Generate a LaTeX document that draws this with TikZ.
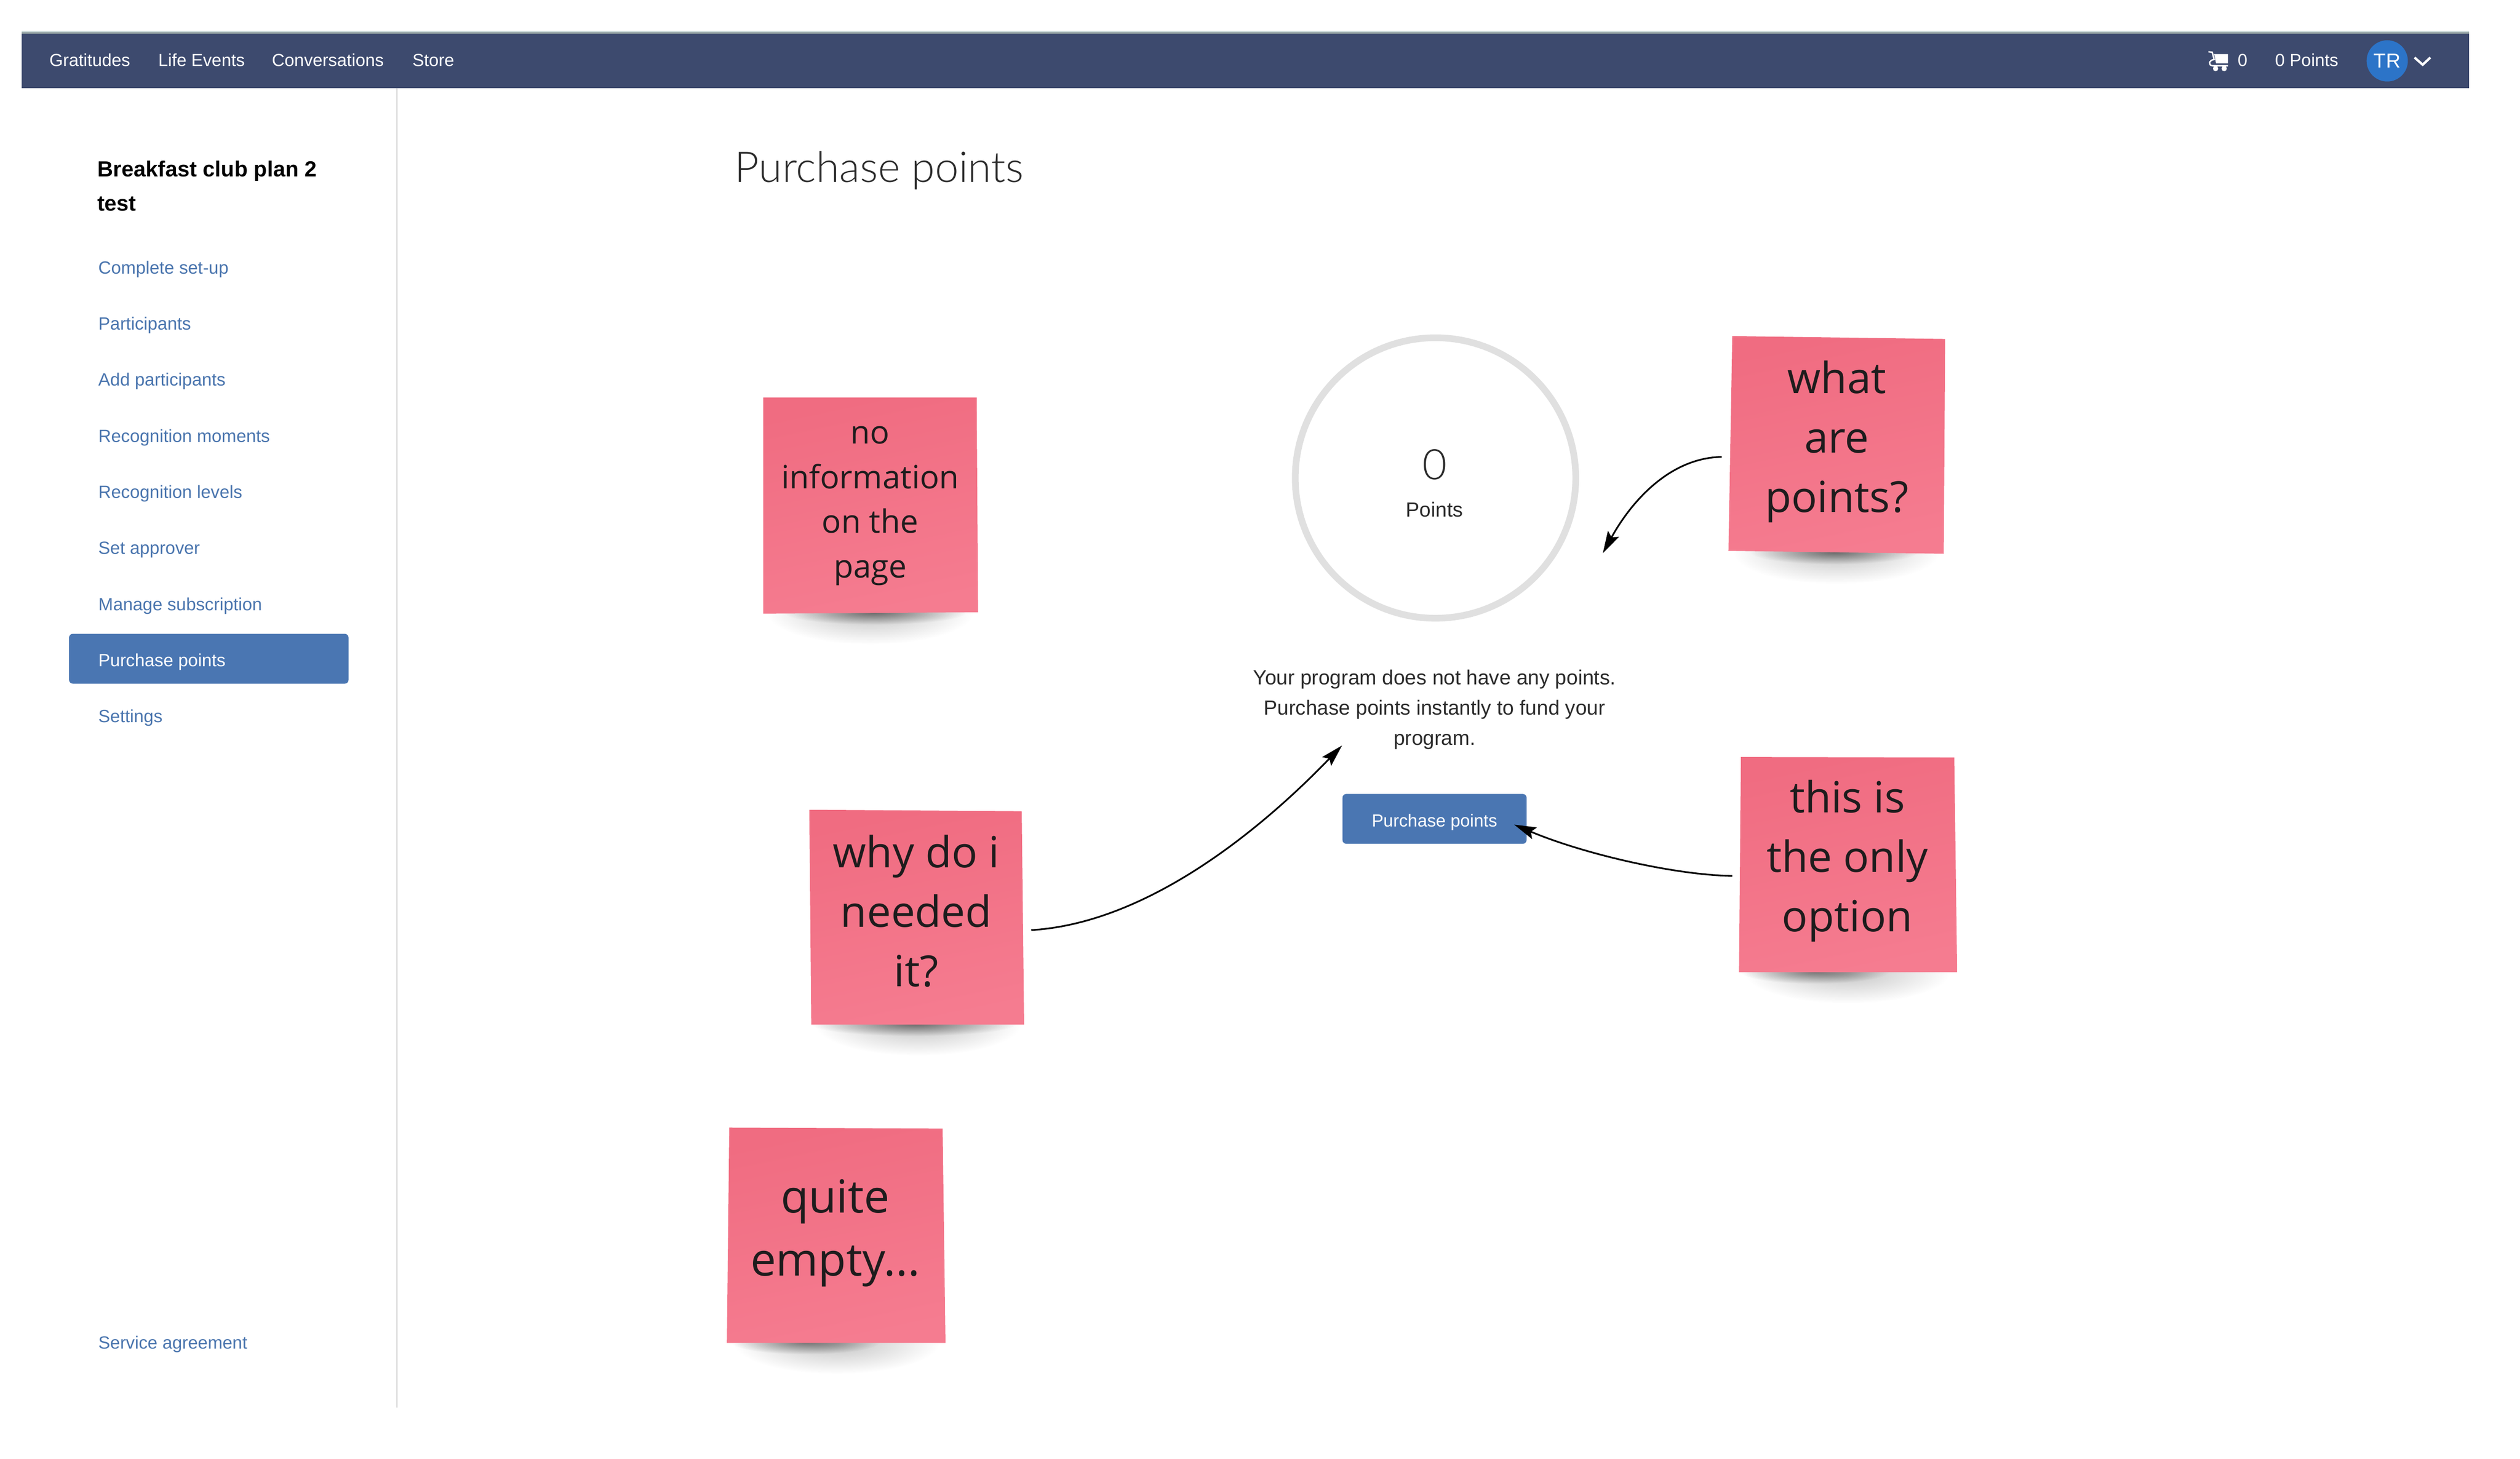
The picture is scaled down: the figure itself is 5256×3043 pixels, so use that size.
\documentclass[tikz,border=0pt]{standalone}
\usepackage{fontspec}
\setmainfont{Liberation Sans}
\newfontfamily\NoteFont{Open Sans}
\newfontfamily\LightFont{Lato Light}
\usetikzlibrary{arrows.meta, fadings}

\definecolor{BarBlue}{HTML}{3D4A6E}
\definecolor{BarEdgeLight}{HTML}{C8D6D6}
\definecolor{BarEdgeDark}{HTML}{8C9A9C}
\definecolor{LinkBlue}{HTML}{4A75AE}
\definecolor{BoxBlue}{HTML}{4A76B2}
\definecolor{AvatarBlue}{HTML}{2C74C8}
\definecolor{RingGrey}{HTML}{E0E0E0}
\definecolor{SideGrey}{HTML}{DEDEDE}
\definecolor{NoteTop}{HTML}{F06C81}
\definecolor{NoteBottom}{HTML}{F57C90}
\definecolor{NoteInk}{HTML}{1E1C1D}
\definecolor{BodyInk}{HTML}{2B2B2B}

\tikzfading[name=ShadowFade, inner color=transparent!0, outer color=transparent!100]

\begin{document}
\begin{tikzpicture}
	[x=1pt, y=-1pt,
	 BarText/.style={anchor=base west, inner sep=0pt, text=white, font=\fontsize{36.5}{43}\selectfont},			%Entries of the top bar
	 MenuText/.style={anchor=base west, inner sep=0pt, font=\fontsize{37}{43}\selectfont},						%Entries of the side menu
	 TitleText/.style={anchor=north west, inner sep=0pt, align=left, font=\bfseries\fontsize{45.5}{72}\selectfont},
	 HeadText/.style={anchor=base west, inner sep=0pt, text=BodyInk, font=\LightFont\fontsize{88.5}{96}\selectfont},
	 BodyText/.style={inner sep=0pt, align=center, text=BodyInk, font=\fontsize{42.7}{63}\selectfont},
	 NoteText/.style={inner sep=0pt, align=center, text=NoteInk, font=\NoteFont\fontsize{89.5}{124}\selectfont},	%Text on a note
	 NoteFill/.style={top color=NoteTop, bottom color=NoteBottom, shading angle=12},
	 NoteShadow/.style={fill=black, path fading=ShadowFade},
	 NoteArrow/.style={line width=3.5pt, -{Stealth[length=46pt, width=26pt, inset=8pt]}},
	 BoxBlueFill/.style={fill=BoxBlue, rounded corners=8pt, inner sep=0pt}
	]
	
	\useasboundingbox (0,0) rectangle (5256,3043);
	
	%Top bar and side line
	\fill[BarEdgeLight] (45,64) rectangle (5150,68);
	\fill[BarEdgeDark] (45,67) rectangle (5150,71);
	\fill[BarBlue] (45,70) rectangle (5150,184);
	\draw[SideGrey, line width=3pt] (828,184) -- (828,2936);
	
	\node[BarText] (BarGratitudes) at (103,138) {Gratitudes};
	\node[BarText] (BarLife) at (330,138) {Life Events};
	\node[BarText] (BarConversations) at (567,138) {Conversations};
	\node[BarText] (BarStore) at (860,138) {Store};
	
	%Shopping cart
	\draw[white, line width=3pt] (4606,108) -- (4614,109) -- (4618,124) .. controls (4606,126) and (4606,136) .. (4614,137) -- (4647,137);
	\fill[white] (4618,113) -- (4647,113) -- (4647,132) -- (4622,132) -- cycle;
	\fill[white] (4621,143) circle (5.5);
	\fill[white] (4639,143) circle (5.5);
	\node[BarText] (BarCart) at (4667,138) {0};
	\node[BarText] (BarPoints) at (4745,138) {0 Points};
	
	%User badge
	\node[circle, fill=AvatarBlue, minimum size=86pt, inner sep=0pt, text=white, font=\fontsize{42}{47}\selectfont] (UserBadge) at (4979,127) {TR};
	\draw[white, line width=5pt] (5036,120) -- (5053,135) -- (5069,120);
	
	%Side menu
	\node[TitleText] (PlanTitle) at (203,335) {Breakfast club plan 2\\test};
	\node[BoxBlueFill, minimum width=583pt, minimum height=104pt] (MenuSelected) at (435.5,1374) {};
	\foreach \Item/\Col [count=\i] in {Complete set-up/LinkBlue, Participants/LinkBlue, Add participants/LinkBlue, Recognition moments/LinkBlue, Recognition levels/LinkBlue, Set approver/LinkBlue, Manage subscription/LinkBlue, Purchase points/white, Settings/LinkBlue}
		\node[MenuText, text=\Col] (Menu\i) at (205,{454+117*\i}) {\Item};
	\node[MenuText, text=LinkBlue] (MenuService) at (205,2814) {Service agreement};
	
	%Main column
	\node[HeadText] (PageHead) at (1532,380) {Purchase points};
	\node[circle, draw=RingGrey, line width=14pt, minimum size=585pt, inner sep=0pt] (PointsRing) at (2994,997) {};
	\node[anchor=base, inner sep=0pt, text=BodyInk, font=\LightFont\fontsize{88}{100}\selectfont] (PointsValue) at (2992,1000) {0};
	\node[BodyText, anchor=base] (PointsLabel) at (2992,1078) {Points};
	\node[BodyText] (Message) at (2992,1480) {Your program does not have any points.\\Purchase points instantly to fund your\\program.};
	\node[BoxBlueFill, minimum width=384pt, minimum height=104pt, text height=32pt, text depth=0pt, text=white, font=\fontsize{36.5}{43}\selectfont] (BuyButton) at (2992,1708) {Purchase points};
	
	%Shadows below the notes: centre x / bottom edge y / dark part x / dark part radius
	\foreach \Cx/\Cy/\Dx/\Dr in {1815/1278/1825/190, 3830/1152/3825/175, 1915/2136/1905/215, 3853/2027/3785/155, 1745/2800/1680/155}{
		\fill[NoteShadow, opacity=0.24] (\Cx,\Cy) ellipse (215pt and 66pt);
		\fill[NoteShadow, opacity=0.45] (\Dx,\Cy) ellipse (\Dr pt and 25pt);
	}
	
	%Notes
	\shade[NoteFill] (1592,829) -- (2037,829) -- (2040,1277) -- (1592,1280) -- cycle;
	\node[NoteText, font=\NoteFont\fontsize{67}{93}\selectfont] (NoteInfo) at (1815,1055) {no\\information\\on the\\page};
	
	\shade[NoteFill] (3613,701) -- (4057,707) -- (4054,1155) -- (3605,1149) -- cycle;
	\node[NoteText] (NoteWhat) at (3831,921) {what\\are\\points?};
	
	\shade[NoteFill] (1688,1689) -- (2131,1692) -- (2136,2137) -- (1692,2137) -- cycle;
	\node[NoteText] (NoteWhy) at (1911,1900) {why do i\\needed\\it?};
	
	\shade[NoteFill] (3631,1579) -- (4076,1580) -- (4082,2028) -- (3627,2028) -- cycle;
	\node[NoteText] (NoteOnly) at (3853,1796) {this is\\the only\\option};
	
	\shade[NoteFill] (1521,2352) -- (1966,2354) -- (1972,2801) -- (1516,2801) -- cycle;
	\node[NoteText, font=\NoteFont\fontsize{95}{131}\selectfont] (NoteEmpty) at (1742,2572) {quite\\empty...};
	
	%Arrows
	\coordinate (WhatStart) at (3591,953);
	\coordinate (WhatTip) at (3343,1154);
	\coordinate (WhyStart) at (2151,1940);
	\coordinate (WhyTip) at (2799,1555);
	\coordinate (OnlyStart) at (3613,1827);
	\coordinate (OnlyTip) at (3158,1720);
	\draw[NoteArrow] (WhatStart) .. controls (3480,955) and (3400,1050) .. (WhatTip);
	\draw[NoteArrow] (WhyStart) .. controls (2400,1925) and (2640,1720) .. (WhyTip);
	\draw[NoteArrow] (OnlyStart) .. controls (3490,1825) and (3300,1780) .. (OnlyTip);
	
\end{tikzpicture}
\end{document}
